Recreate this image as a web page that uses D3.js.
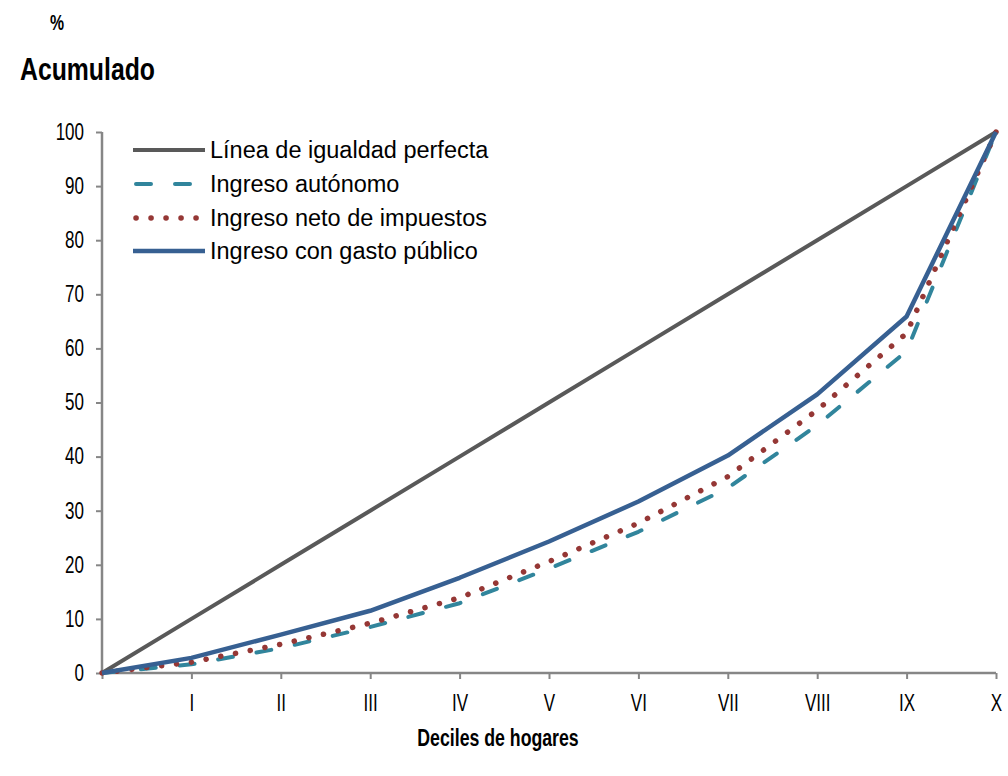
<!DOCTYPE html>
<html>
<head>
<meta charset="utf-8">
<script src="https://cdn.jsdelivr.net/npm/d3@7"></script>
<style>
  body { margin: 0; background: #fff; }
  svg { display: block; font-family: "Liberation Sans", Arial, sans-serif; }
</style>
</head>
<body>
<div id="chart"></div>
<script>
// deciles (0 = origin)
const deciles = ['', 'I', 'II', 'III', 'IV', 'V', 'VI', 'VII', 'VIII', 'IX', 'X']
const yTicks = [0, 10, 20, 30, 40, 50, 60, 70, 80, 90, 100]

const igualdad = [0, 10, 20, 30, 40, 50, 60, 70, 80, 90, 100]
const autonomo = [0, 1.6, 4.6, 8.5, 12.9, 19.3, 26.1, 34.2, 45.8, 59.5, 100]
const neto = [0, 2.0, 5.3, 9.2, 13.9, 20.6, 27.7, 36.3, 48.6, 62.8, 100]
const gasto = [0, 2.8, 7.1, 11.5, 17.6, 24.3, 31.7, 40.2, 51.5, 65.9, 100]

const seriesNames = ['Línea de igualdad perfecta', 'Ingreso autónomo', 'Ingreso neto de impuestos', 'Ingreso con gasto público']

const width = 1008, height = 776
const margin = {left: 102, top: 132, right: 12, bottom: 103}
const narrow = 0.74 // the axis texts look horizontally squeezed

const svg = d3.select('#chart').append('svg')
	.attr('width', width)
	.attr('height', height)

const x = d3.scaleLinear().domain([0, 10]).range([margin.left, width - margin.right])
const y = d3.scaleLinear().domain([0, 100]).range([height - margin.bottom, margin.top])

// axes
const axisColor = '#868686'

const yAxis = svg.append('g')
	.attr('transform', `translate(${margin.left},0)`)
	.call(d3.axisLeft(y).tickValues(yTicks).tickSize(6).tickPadding(12))
yAxis.selectAll('text')
	.style('font-size', '23px').attr('fill', '#000')
	.attr('x', -18 / narrow)
	.attr('transform', `scale(${narrow},1)`)
yAxis.selectAll('line').attr('stroke', axisColor).attr('stroke-width', 2)
yAxis.select('.domain').attr('stroke', axisColor).attr('stroke-width', 2.5)
	.attr('d', `M0,${y(0)}V${y(100)}`)

const xAxis = svg.append('g')
	.attr('transform', `translate(0,${y(0)})`)
	.call(d3.axisBottom(x).tickValues(d3.range(0, 11)).tickFormat(i => deciles[i]).tickSize(6).tickPadding(16))
xAxis.selectAll('text')
	.style('font-size', '23px').attr('fill', '#000')
	.attr('transform', `scale(${narrow},1)`)
xAxis.selectAll('line').attr('stroke', axisColor).attr('stroke-width', 2)
xAxis.select('.domain').attr('stroke', axisColor).attr('stroke-width', 2.5)
	.attr('d', `M${x(0)},0H${x(10)}`)

// series styles
const styles = [
	{data: igualdad, color: '#595959', width: 4, dash: null, cap: 'butt'},
	{data: autonomo, color: '#31859c', width: 4, dash: '15,24', cap: 'round'},
	{data: neto, color: '#953735', width: 5.5, dash: '0.1,14.9', cap: 'round'},
	{data: gasto, color: '#376092', width: 4.5, dash: null, cap: 'butt'}
]

const line = d3.line()
	.x((d, i) => x(i))
	.y(d => y(d))

const plot = svg.append('g')
for (let s of styles) {
	plot.append('path')
		.attr('d', line(s.data))
		.attr('fill', 'none')
		.attr('stroke', s.color)
		.attr('stroke-width', s.width)
		.attr('stroke-linecap', s.cap)
		.attr('stroke-linejoin', 'round')
		.attr('stroke-dasharray', s.dash)
}

// legend
const legend = svg.append('g')
const legendY = [150, 184, 218, 251]
styles.forEach((s, i) => {
	let dx = s.cap == 'round' ? 3 : 0
	legend.append('line')
		.attr('x1', 133 + dx).attr('x2', 205 - dx)
		.attr('y1', legendY[i]).attr('y2', legendY[i])
		.attr('stroke', s.color)
		.attr('stroke-width', s.width)
		.attr('stroke-linecap', s.cap)
		.attr('stroke-dasharray', s.dash)
	legend.append('text')
		.attr('x', 210).attr('y', legendY[i])
		.attr('dy', '0.35em')
		.style('font-size', '23.5px')
		.text(seriesNames[i])
})

// titles
function title(txt, tx, ty, size, sx, anchor) {
	svg.append('text')
		.attr('transform', `translate(${tx},${ty}) scale(${sx},1)`)
		.attr('text-anchor', anchor || 'start')
		.style('font-size', size + 'px').style('font-weight', 'bold')
		.text(txt)
}
title('%', 50, 30, 22, 0.72)
title('Acumulado', 20, 80, 32, 0.775)
title('Deciles de hogares', 498, 746, 23, 0.77, 'middle')
</script>
</body>
</html>
